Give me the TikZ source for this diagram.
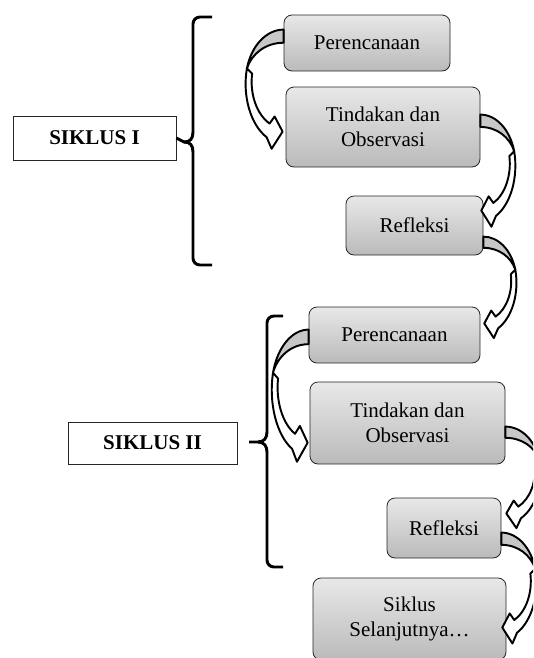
\documentclass[tikz,border=0pt]{standalone}
\usepackage{fontspec}
\setmainfont{Liberation Serif}
\usetikzlibrary{calc}
\newcommand{\curvarrow}[3]{%
\begin{scope}[shift={#1}, xscale=#2, yscale=#3]
  % front face
  \filldraw[arrline, fill=white] (-36.7,38.5)
     arc[start angle=195, end angle=116.5, x radius=38, y radius=59]
     -- (-12,118) -- (-1,101) -- (-9,86) -- (-14,93)
     arc[start angle=116, end angle=190, x radius=32, y radius=46] -- cycle;
  % back face
  \filldraw[arrline, fill=black!22] (0,0)
     arc[start angle=270, end angle=195, x radius=38, y radius=52]
     .. controls (-32,24) and (-18,13) .. (0,13) -- cycle;
\end{scope}}
\begin{document}
\begin{tikzpicture}[x=0.75pt, y=-0.75pt,
  pbox/.style={draw=black!85, line width=0.6pt, rounded corners=6pt, top color=black!9, bottom color=black!27,
    align=center, inner sep=0pt, font=\fontsize{15.75}{18.75}\selectfont},
  sbox/.style={draw=black!85, line width=0.6pt, fill=white, inner sep=0pt,
    font=\bfseries\fontsize{15.75}{18.75}\selectfont},
  arrline/.style={draw=black, line width=1.45pt, line join=round},
  bracestyle/.style={line width=2.2pt, line join=round}]
\useasboundingbox (0,0) rectangle (533,658);
\clip (0,0) rectangle (533,658);
% boxes
\node[pbox, minimum width=124.5pt, minimum height=42pt] (per1) at (367,43) {Perencanaan};
\node[pbox, minimum width=145.5pt, minimum height=60pt] (tin1) at (383,127) {Tindakan dan\\Observasi};
\node[pbox, minimum width=102.75pt, minimum height=44.25pt] (ref1) at (414.5,225.5) {Refleksi};
\node[pbox, minimum width=128.25pt, minimum height=42pt] (per2) at (394.5,335) {Perencanaan};
\node[pbox, minimum width=146.25pt, minimum height=61.5pt] (tin2) at (407.5,423) {Tindakan dan\\Observasi};
\node[pbox, minimum width=85.5pt, minimum height=45pt] (ref2) at (444,528) {Refleksi};
\node[pbox, minimum width=144.75pt, minimum height=61.5pt] (sik) at (409.5,619) {Siklus\\Selanjutnya…};
\node[sbox, minimum width=122.25pt, minimum height=33pt] (s1) at (94.5,138) {SIKLUS I};
\node[sbox, minimum width=126.75pt, minimum height=31.5pt] (s2) at (152.5,443) {SIKLUS II};
% curved arrows
\curvarrow{($(per1.north west)+(0,15)$)}{1}{1.01}
\curvarrow{($(tin1.north east)+(0,28)$)}{-0.92}{0.95}
\curvarrow{($(ref1.north east)+(0,41)$)}{-0.87}{0.86}
\curvarrow{($(per2.north west)+(0,23)$)}{0.97}{1.12}
\curvarrow{($(tin2.north east)+(0,45)$)}{-0.92}{0.86}
\curvarrow{($(ref2.north east)+(0,35)$)}{-0.92}{0.94}
% braces
\coordinate (t1) at (s1.east);
\draw[bracestyle] (212,17) -- (200,17) .. controls (196,17) and (193,20) .. (193,24) -- (193,132)
   .. controls (193,139) and (190,142) .. (184,142) -- (t1);
\draw[bracestyle] (184,142) .. controls (190,142) and (193,145) .. (193,152) -- (193,258)
   .. controls (193,262) and (196,265) .. (200,265) -- (212,265);
\coordinate (t2) at (249,442);
\draw[bracestyle] (283,316) -- (274,316) .. controls (270,316) and (267,319) .. (267,323) -- (267,432)
   .. controls (267,438) and (264,442) .. (258,442) -- (t2);
\draw[bracestyle] (258,442) .. controls (264,442) and (267,446) .. (267,452) -- (267,560)
   .. controls (267,564) and (270,567) .. (274,567) -- (283,567);
\end{tikzpicture}
\end{document}
